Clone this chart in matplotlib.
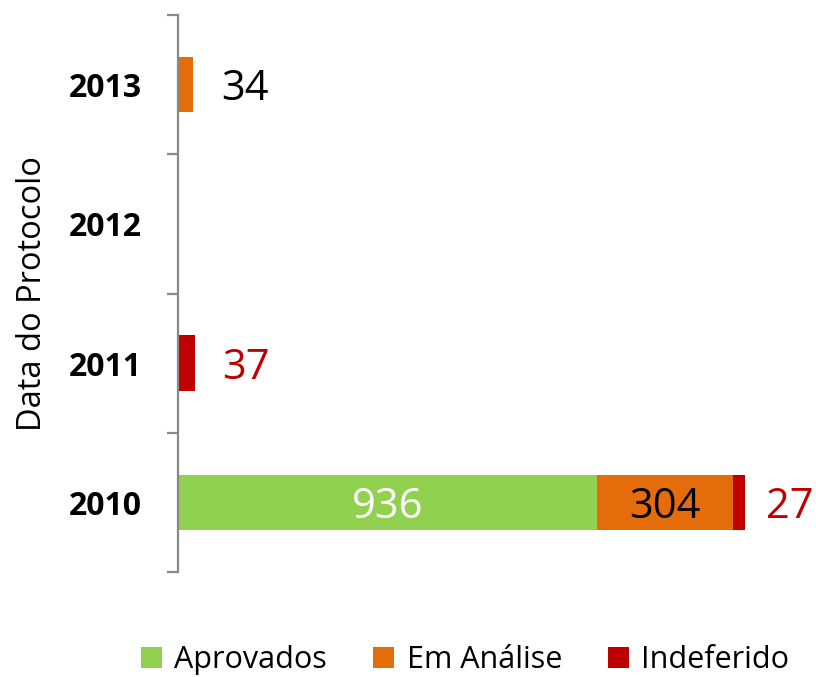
import matplotlib
matplotlib.use("Agg")
import matplotlib.pyplot as plt
from matplotlib.patches import Patch

years = ["2010", "2011", "2012", "2013"]
aprovados = [936, 0, 0, 0]
em_analise = [304, 0, 0, 34]
indeferido = [27, 37, 0, 0]
series_names = ["Aprovados", "Em Análise", "Indeferido"]
colors = ["#92D050", "#E46C0A", "#C00000"]

plt.rcParams['font.family'] = ['Open Sans', 'DejaVu Sans']

W, H = 816, 677
fig = plt.figure(figsize=(W / 100, H / 100), dpi=100)
left_px, right_px, top_px, bot_px = 178, 804.7, 15, 572
ax = fig.add_axes([left_px / W, 1 - bot_px / H, (right_px - left_px) / W, (bot_px - top_px) / H])

ypos = list(range(len(years)))
bh = 0.4
series = [aprovados, em_analise, indeferido]
lefts = [0] * len(years)
for vals, col in zip(series, colors):
    ax.barh(ypos, vals, left=lefts, height=bh, color=col, edgecolor='none')
    lefts = [l + v for l, v in zip(lefts, vals)]

label_font = 30
dy = -3.5
for i in ypos:
    cum = 0
    total = sum(ss[i] for ss in series)
    for s, (vals, col) in enumerate(zip(series, colors)):
        v = vals[i]
        if v == 0:
            continue
        end = cum + v
        if v > 100:
            tc = 'white' if s == 0 else 'black'
            ax.annotate(str(v), xy=(cum + v / 2, i), xytext=(0, dy), textcoords='offset points',
                        ha='center', va='center', fontsize=label_font, color=tc)
        else:
            tc = '#C00000' if s == 2 else 'black'
            off = 15 if total > 1000 else 20
            ax.annotate(str(v), xy=(end, i), xytext=(off, dy), textcoords='offset points',
                        ha='left', va='center', fontsize=label_font, color=tc)
        cum = end

ax.set_xlim(0, 1400)
ax.set_ylim(-0.5, 3.5)
for sp in ['top', 'right', 'bottom']:
    ax.spines[sp].set_visible(False)
ax.spines['left'].set_color('#888888')
ax.spines['left'].set_linewidth(1.6)
ax.set_xticks([])
ax.set_yticks(ypos)
ax.set_yticklabels(years, fontsize=23, fontweight='bold')
ax.tick_params(axis='y', which='major', length=0, pad=26)
ax.set_yticks([-0.5, 0.5, 1.5, 2.5, 3.5], minor=True)
ax.tick_params(axis='y', which='minor', length=8, width=1.6, color='#888888', direction='out')
ax.set_ylabel("Data do Protocolo", fontsize=23.5)
ax.yaxis.set_label_coords((49 - left_px) / (right_px - left_px), 0.5)

handles = [Patch(facecolor=c, edgecolor='none', label=n) for c, n in zip(colors, series_names)]
fig.legend(handles=handles, loc='center', bbox_to_anchor=(0.57, 0.025), ncol=3, frameon=False,
           fontsize=22, handlelength=0.7, handleheight=0.7, handletextpad=0.4, columnspacing=1.5)

fig.savefig("out.png", dpi=100)
